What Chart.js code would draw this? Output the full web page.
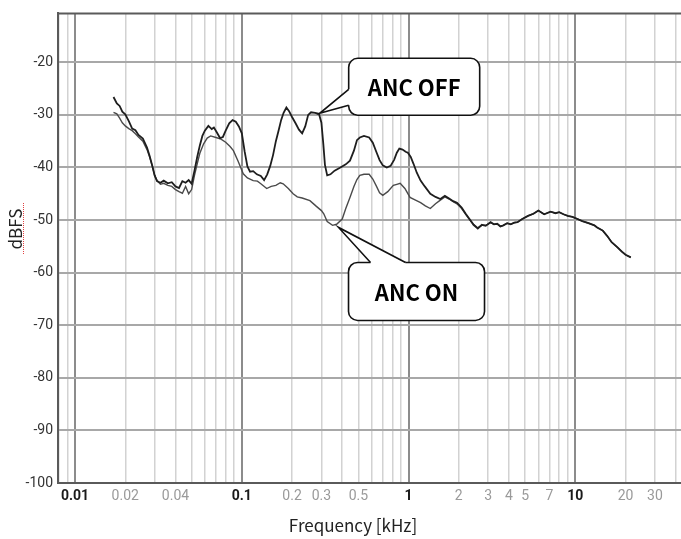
<!DOCTYPE html>
<html>
<head>
<meta charset="utf-8">
<script src="https://cdn.jsdelivr.net/npm/chart.js@4.4.1/dist/chart.umd.min.js"></script>
<style>
  html, body { margin: 0; padding: 0; background: #fff; }
</style>
</head>
<body>
<canvas id="anc" width="681" height="539"></canvas>
<script>
// valores (frequência em kHz, nível em dBFS)
const offFreq = [0.0170,0.0178,0.0185,0.0192,0.0200,0.0210,0.0220,0.0230,0.0240,0.0255,0.0270,0.0280,0.0290,0.0300,0.0310,0.0325,0.0340,0.0360,0.0380,0.0400,0.0420,0.0440,0.0460,0.0480,0.0500,0.0520,0.0540,0.0560,0.0580,0.0600,0.0630,0.0660,0.0680,0.0710,0.0740,0.0770,0.0800,0.0840,0.0880,0.0920,0.0960,0.1000,0.1040,0.1080,0.1120,0.1170,0.1230,0.1300,0.1360,0.1420,0.1480,0.1540,0.1600,0.1660,0.1720,0.1780,0.1850,0.1920,0.2000,0.2100,0.2200,0.2300,0.2400,0.2500,0.2600,0.2750,0.2900,0.3000,0.3080,0.3150,0.3250,0.3400,0.3600,0.3900,0.4200,0.4450,0.4700,0.4900,0.5100,0.5400,0.5800,0.6100,0.6400,0.6700,0.7000,0.7400,0.7800,0.8200,0.8500,0.8800,0.9200,0.9600,0.9900,1.030,1.070,1.120,1.180,1.250,1.350,1.450,1.550,1.650,1.750,1.850,1.950,2.080,2.200,2.330,2.450,2.600,2.750,2.900,3.100,3.250,3.400,3.550,3.700,3.900,4.100,4.300,4.500,4.800,5.200,5.600,6.000,6.500,7.100,7.600,8.000,8.500,9.000,9.600,10.30,11.00,12.00,13.00,13.50,14.60,15.50,16.50,17.90,19.00,20.00,21.50];
const offDb = [-26.6,-27.8,-28.3,-29.4,-29.9,-31.2,-32.6,-32.9,-33.8,-34.5,-36.2,-37.8,-39.6,-41.5,-42.6,-42.9,-42.5,-43.0,-42.8,-43.6,-43.9,-42.6,-42.9,-42.4,-43.1,-40.6,-38.0,-35.8,-34.0,-33.0,-32.1,-32.7,-32.4,-33.4,-34.4,-34.2,-33.0,-31.6,-31.0,-31.3,-32.2,-33.5,-37.0,-39.8,-40.8,-40.7,-41.3,-41.6,-42.4,-41.3,-39.7,-37.6,-35.0,-33.0,-31.0,-29.6,-28.6,-29.3,-30.4,-31.6,-32.8,-33.5,-32.2,-30.0,-29.5,-29.6,-29.8,-31.5,-35.5,-39.5,-41.5,-41.3,-40.6,-40.0,-39.4,-38.7,-36.8,-34.8,-34.3,-34.0,-34.3,-35.3,-37.0,-38.6,-39.6,-40.0,-39.7,-38.5,-37.2,-36.4,-36.6,-37.0,-37.2,-38.0,-39.3,-41.0,-42.5,-43.6,-45.0,-45.6,-46.0,-45.4,-45.9,-46.4,-46.7,-47.6,-48.8,-49.9,-50.9,-51.6,-50.9,-51.1,-50.4,-50.8,-50.7,-51.2,-51.0,-50.6,-50.8,-50.5,-50.4,-49.8,-49.2,-48.8,-48.2,-48.9,-48.4,-48.7,-48.5,-48.9,-49.2,-49.4,-49.8,-50.2,-50.6,-51.0,-51.4,-52.0,-53.0,-54.2,-55.2,-56.0,-56.6,-57.1];

const onFreq = [0.0170,0.0178,0.0185,0.0192,0.0200,0.0210,0.0220,0.0230,0.0240,0.0255,0.0270,0.0280,0.0290,0.0300,0.0310,0.0325,0.0340,0.0360,0.0380,0.0400,0.0420,0.0440,0.0460,0.0480,0.0500,0.0520,0.0540,0.0560,0.0590,0.0620,0.0650,0.0700,0.0750,0.0800,0.0850,0.0890,0.0950,0.1020,0.1080,0.1170,0.1240,0.1300,0.1410,0.1500,0.1600,0.1700,0.1770,0.1900,0.2030,0.2150,0.2300,0.2560,0.2800,0.3000,0.3100,0.3250,0.3500,0.3700,0.4000,0.4200,0.4450,0.4700,0.4900,0.5100,0.5400,0.5800,0.6100,0.6400,0.6700,0.7000,0.7500,0.8100,0.8500,0.8900,0.9500,1.020,1.100,1.180,1.260,1.350,1.450,1.550,1.650,1.750,1.850,1.950,2.080,2.200,2.330,2.450,2.600,2.750,2.900,3.100,3.250,3.400,3.550,3.700,3.900,4.100,4.300,4.500,4.800,5.200,5.600,6.000,6.500,7.100,7.600,8.000,8.500,9.000,9.600,10.30,11.00,12.00,13.00,13.50,14.60,15.50,16.50,17.90,19.00,20.00,21.50];
const onDb = [-29.5,-29.8,-30.6,-31.5,-32.1,-32.6,-33.0,-33.6,-34.2,-35.0,-36.6,-38.0,-39.7,-41.5,-42.5,-43.2,-43.0,-43.4,-43.6,-44.2,-44.6,-44.9,-43.6,-45.0,-44.2,-41.5,-39.3,-37.3,-35.5,-34.4,-34.0,-34.3,-34.6,-35.2,-36.0,-36.8,-38.8,-41.2,-42.0,-42.5,-42.6,-43.1,-44.0,-43.6,-43.4,-42.9,-43.1,-44.0,-45.0,-45.6,-45.8,-46.3,-47.4,-48.2,-48.8,-50.3,-51.0,-50.8,-49.8,-47.8,-45.7,-43.6,-42.3,-41.5,-41.3,-41.3,-42.2,-43.5,-44.8,-45.3,-44.6,-43.4,-43.2,-43.0,-44.0,-45.7,-46.2,-46.7,-47.3,-47.8,-46.9,-46.2,-45.6,-46.0,-46.5,-46.9,-47.8,-48.9,-50.0,-50.8,-51.5,-51.0,-51.0,-50.5,-50.8,-50.7,-51.2,-51.0,-50.6,-50.8,-50.5,-50.4,-49.8,-49.2,-48.8,-48.2,-48.9,-48.4,-48.7,-48.5,-48.9,-49.2,-49.4,-49.8,-50.2,-50.6,-51.0,-51.4,-52.0,-53.0,-54.2,-55.2,-56.0,-56.6,-57.1];

const yTicks = [-20, -30, -40, -50, -60, -70, -80, -90, -100];
const xLabeled = [0.01, 0.02, 0.04, 0.1, 0.2, 0.3, 0.5, 1, 2, 3, 4, 5, 7, 10, 20, 30];
const xMajor = [0.01, 0.1, 1, 10];
const xMin = 0.0079;
const xMax = 43;

// pontas dos balões (em dados)
const calloutOff = { f: 0.293, db: -29.7, text: 'ANC OFF' };
const calloutOn = { f: 0.38, db: -51.4, text: 'ANC ON' };

const gridFreqs = [0.008, 0.009];
[0.01, 0.1, 1, 10].forEach(d => {
  for (let m = 1; m <= 9; m++) {
    const v = +(m * d).toPrecision(6);
    if (v <= xMax) gridFreqs.push(v);
  }
});

const sameVal = (a, b) => Math.abs(a - b) < 1e-6 * b;
const isMajor = v => xMajor.some(t => sameVal(v, t));

const toXY = (fs, ds) => fs.map((f, i) => ({ x: f, y: ds[i] }));

function roundBox(ctx, l, t, r, b, rad) {
  ctx.beginPath();
  ctx.moveTo(l + rad, t);
  ctx.lineTo(r - rad, t);
  ctx.arcTo(r, t, r, t + rad, rad);
  ctx.lineTo(r, b - rad);
  ctx.arcTo(r, b, r - rad, b, rad);
  ctx.lineTo(l + rad, b);
  ctx.arcTo(l, b, l, b - rad, rad);
  ctx.lineTo(l, t + rad);
  ctx.arcTo(l, t, l + rad, t, rad);
  ctx.closePath();
}

function drawCallout(ctx, tip, box, base, text) {
  ctx.save();
  ctx.lineWidth = 1.6;
  ctx.strokeStyle = '#111';
  ctx.fillStyle = '#fff';
  roundBox(ctx, box.l, box.t, box.r, box.b, 9);
  ctx.fill();
  ctx.stroke();
  // cauda
  ctx.beginPath();
  ctx.moveTo(base[0][0], base[0][1]);
  ctx.lineTo(tip.x, tip.y);
  ctx.lineTo(base[1][0], base[1][1]);
  ctx.lineTo(base[2][0], base[2][1]);
  ctx.lineTo(base[3][0], base[3][1]);
  ctx.closePath();
  ctx.fill();
  ctx.beginPath();
  ctx.moveTo(base[0][0], base[0][1]);
  ctx.lineTo(tip.x, tip.y);
  ctx.lineTo(base[1][0], base[1][1]);
  ctx.stroke();
  ctx.fillStyle = '#000';
  ctx.font = 'bold 22px "Noto Sans CJK KR", "Noto Sans", sans-serif';
  ctx.textAlign = 'center';
  ctx.textBaseline = 'middle';
  ctx.fillText(text, (box.l + box.r) / 2, (box.t + box.b) / 2 + 1);
  ctx.restore();
}

const extras = {
  id: 'extras',
  afterDatasetsDraw(chart) {
    const { ctx, chartArea, scales } = chart;
    // moldura superior
    ctx.save();
    ctx.strokeStyle = '#5a5a5a';
    ctx.lineWidth = 2;
    ctx.beginPath();
    ctx.moveTo(chartArea.left - 1, chartArea.top);
    ctx.lineTo(chartArea.right, chartArea.top);
    ctx.stroke();
    ctx.restore();

    const tOff = { x: scales.x.getPixelForValue(calloutOff.f), y: scales.y.getPixelForValue(calloutOff.db) };
    const bOff = { l: tOff.x + 29, r: tOff.x + 160, t: tOff.y - 55, b: tOff.y + 2 };
    drawCallout(ctx, tOff, bOff,
      [[bOff.l, tOff.y - 24], [bOff.l, tOff.y - 8], [bOff.l + 3, tOff.y - 8], [bOff.l + 3, tOff.y - 24]],
      calloutOff.text);

    const tOn = { x: scales.x.getPixelForValue(calloutOn.f), y: scales.y.getPixelForValue(calloutOn.db) };
    const bOn = { l: tOn.x + 10, r: tOn.x + 146, t: tOn.y + 35, b: tOn.y + 93 };
    drawCallout(ctx, tOn, bOn,
      [[tOn.x + 32, bOn.t], [tOn.x + 67, bOn.t], [tOn.x + 67, bOn.t + 3], [tOn.x + 32, bOn.t + 3]],
      calloutOn.text);

    // títulos dos eixos
    ctx.save();
    ctx.fillStyle = '#222';
    ctx.font = '17px "Noto Sans CJK KR", "Noto Sans", sans-serif';
    ctx.textAlign = 'center';
    ctx.textBaseline = 'middle';
    ctx.fillText('Frequency [kHz]', 353, 526);
    ctx.translate(16, 229);
    ctx.rotate(-Math.PI / 2);
    ctx.fillText('dBFS', 0, 0);
    ctx.restore();
    // sublinhado vermelho do corretor
    ctx.save();
    ctx.strokeStyle = '#e04040';
    ctx.lineWidth = 1;
    ctx.setLineDash([1, 1]);
    ctx.beginPath();
    ctx.moveTo(23.5, 203);
    ctx.lineTo(23.5, 255);
    ctx.stroke();
    ctx.restore();
  }
};

new Chart(document.getElementById('anc'), {
  type: 'line',
  data: {
    datasets: [
      { label: 'ANC OFF', data: toXY(offFreq, offDb), borderColor: '#1e1e1e', borderWidth: 1.8, pointRadius: 0, tension: 0, fill: false },
      { label: 'ANC ON', data: toXY(onFreq, onDb), borderColor: '#4a4a4a', borderWidth: 1.4, pointRadius: 0, tension: 0, fill: false }
    ]
  },
  options: {
    responsive: false,
    animation: false,
    layout: { padding: { top: 13, right: 0, left: 0, bottom: 0 } },
    plugins: { legend: { display: false }, tooltip: { enabled: false } },
    scales: {
      x: {
        type: 'logarithmic',
        min: xMin,
        max: xMax,
        afterFit(s) { s.height = 56; s.paddingRight = 0; },
        afterBuildTicks(s) { s.ticks = gridFreqs.map(v => ({ value: v })); },
        ticks: {
          autoSkip: false,
          maxRotation: 0,
          padding: 5,
          callback(v) {
            const hit = xLabeled.find(t => sameVal(v, t));
            return hit === undefined ? '' : String(hit);
          },
          color: c => isMajor(c.tick.value) ? '#1a1a1a' : '#9a9a9a',
          font: c => ({
            family: '"Liberation Sans Narrow", "Roboto", sans-serif',
            size: 14,
            weight: isMajor(c.tick.value) ? 'bold' : 'normal'
          })
        },
        grid: {
          drawTicks: false,
          color: c => isMajor(c.tick.value) ? '#8c8c8c' : '#d2d2d2',
          lineWidth: c => isMajor(c.tick.value) ? 2 : 1.5
        },
        border: { color: '#5a5a5a', width: 2 }
      },
      y: {
        min: -100,
        max: -10.7,
        afterFit(s) { s.width = 58; },
        afterBuildTicks(s) { s.ticks = yTicks.map(v => ({ value: v })); },
        ticks: {
          padding: 5,
          color: '#333',
          font: { family: '"Liberation Sans Narrow", "Roboto", sans-serif', size: 14 }
        },
        grid: { drawTicks: false, color: '#a8a8a8', lineWidth: 2 },
        border: { color: '#5a5a5a', width: 2 }
      }
    }
  },
  plugins: [extras]
});
</script>
</body>
</html>
